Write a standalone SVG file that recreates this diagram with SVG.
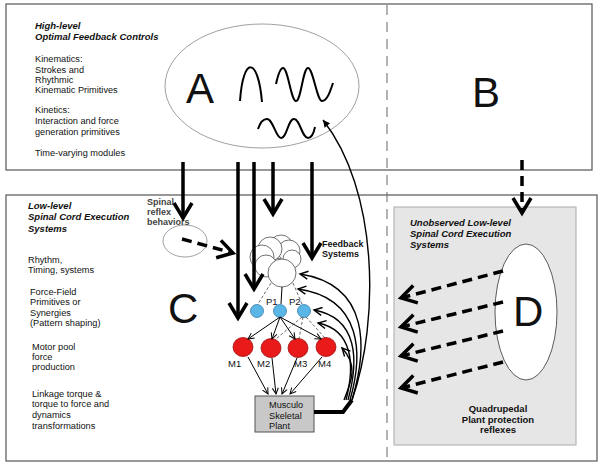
<svg xmlns="http://www.w3.org/2000/svg" width="600" height="467" viewBox="0 0 600 467">
<style>
text{font-family:"Liberation Sans",Arial,sans-serif;fill:#111}
.h{font-size:9.5px;font-weight:bold;font-style:italic}
.t{font-size:9.2px}
.b{font-size:9px;font-weight:bold}
.big{font-size:42px}
.lab{font-size:9.5px}
.frame{fill:#fff;stroke:#555;stroke-width:1.2}
.thick{fill:none;stroke:#000;stroke-width:3.5}
.tdash{fill:none;stroke:#000;stroke-width:3.5;stroke-dasharray:10,6}
.thin{fill:none;stroke:#000;stroke-width:1}
.fb{fill:none;stroke:#000;stroke-width:1.4}
.tdsh{fill:none;stroke:#444;stroke-width:0.8;stroke-dasharray:3,2}
.wave{fill:none;stroke:#000;stroke-width:2}
.blob{fill:#fff;stroke:#333;stroke-width:0.7}
.pc{fill:#5ab6e6;stroke:#3a7fa8;stroke-width:0.8}
.mc{fill:#e81a1a;stroke:#a01010;stroke-width:0.8}
</style>
<defs>
<marker id="big" markerUnits="userSpaceOnUse" markerWidth="24" markerHeight="24" viewBox="-18 -12 22 24" refX="0" refY="0" orient="auto">
<path d="M-15,-9 L0,0 L-15,9" fill="none" stroke="#000" stroke-width="3.5"/>
</marker>
<marker id="sm" markerUnits="userSpaceOnUse" markerWidth="10" markerHeight="10" viewBox="-8 -5 10 10" refX="0" refY="0" orient="auto">
<path d="M-6,-3 L0,0 L-6,3" fill="none" stroke="#000" stroke-width="1"/>
</marker>
<marker id="fbm" markerUnits="userSpaceOnUse" markerWidth="12" markerHeight="12" viewBox="-10 -6 12 12" refX="0" refY="0" orient="auto">
<path d="M-8,-4 L0,0 L-8,4" fill="none" stroke="#000" stroke-width="1.4"/>
</marker>
<marker id="tri" markerUnits="userSpaceOnUse" markerWidth="10" markerHeight="10" viewBox="-8 -5 10 10" refX="0" refY="0" orient="auto">
<path d="M-7,-3.5 L0,0 L-7,3.5 Z" fill="#000"/>
</marker>
</defs>

<g id="frames">
<rect class="frame" x="6" y="4" width="586" height="166"/>
<rect class="frame" x="6" y="195" width="591" height="266" stroke="#777"/>
<line x1="387" y1="5" x2="387" y2="458" stroke="#666" stroke-width="1" stroke-dasharray="10,7"/>
</g>

<g id="top-labels">
<text class="h" x="35" y="29">High-level</text>
<text class="h" x="35" y="40">Optimal Feedback Controls</text>
<text class="t" x="35" y="62">Kinematics:</text>
<text class="t" x="35" y="73">Strokes and</text>
<text class="t" x="35" y="83">Rhythmic</text>
<text class="t" x="35" y="93">Kinematic Primitives</text>
<text class="t" x="35" y="113">Kinetics:</text>
<text class="t" x="35" y="124">Interaction and force</text>
<text class="t" x="35" y="135">generation primitives</text>
<text class="t" x="35" y="156">Time-varying modules</text>
</g>

<g id="nodeA">
<ellipse cx="262" cy="86" rx="97" ry="62" fill="#fff" stroke="#888" stroke-width="0.8"/>
<text class="big" x="186" y="103">A</text>
<path class="wave" d="M240,101 C243,56 258,56 262,102"/>
<path class="wave" d="M276,84 C278,75 280,68 283,68 C288,68 291,101 296,101 C301,101 303,68 308,68 C313,68 317,101 322,101 C327,101 330,92 333,83"/>
<path class="wave" d="M258,129 C260,123 263,119 267,119 C273,119 276,138 281,138 C287,138 288,119 294,119 C300,119 302,138 308,138 C312,138 314,132 315,127"/>
</g>

<g id="nodeB">
<text class="big" x="472" y="107">B</text>
</g>

<g id="low-labels">
<text class="h" x="28" y="209">Low-level</text>
<text class="h" x="28" y="220">Spinal Cord Execution</text>
<text class="h" x="28" y="232">Systems</text>
<text class="t" x="28" y="263">Rhythm,</text>
<text class="t" x="28" y="273">Timing, systems</text>
<text class="t" x="30" y="295">Force-Field</text>
<text class="t" x="30" y="305">Primitives or</text>
<text class="t" x="30" y="316">Synergies</text>
<text class="t" x="30" y="326">(Pattern shaping)</text>
<text class="t" x="32" y="350">Motor pool</text>
<text class="t" x="32" y="360">force</text>
<text class="t" x="32" y="370">production</text>
<text class="t" x="32" y="397">Linkage torque &amp;</text>
<text class="t" x="32" y="407">torque to force and</text>
<text class="t" x="32" y="418">dynamics</text>
<text class="t" x="32" y="429">transformations</text>
</g>

<g id="nodeC">
<text class="big" x="168" y="323">C</text>
</g>

<g id="spinal-reflex">
<ellipse cx="185" cy="241" rx="22" ry="16" fill="none" stroke="#888" stroke-width="0.8"/>
<text class="b" x="147" y="205" style="fill:#444">Spinal</text>
<text class="b" x="147" y="215" style="fill:#444">reflex</text>
<text class="b" x="147" y="225" style="fill:#444">behaviors</text>
</g>

<g id="feedback-label">
<text class="b" x="322" y="247">Feedback</text>
<text class="b" x="322" y="257">Systems</text>
</g>

<g id="cluster">
<circle class="blob" cx="281" cy="247" r="12"/>
<circle class="blob" cx="289" cy="251" r="11"/>
<circle class="blob" cx="270" cy="249" r="12"/>
<circle class="blob" cx="292" cy="259" r="9"/>
<circle class="blob" cx="262" cy="257" r="12"/>
<circle class="blob" cx="266" cy="266" r="11"/>
<circle class="blob" cx="282" cy="273" r="14"/>
</g>

<g id="P0"><circle class="pc" cx="257" cy="311" r="6.5"/></g>
<g id="P1"><circle class="pc" cx="280" cy="311" r="6.5"/><text class="lab" x="266" y="305">P1</text></g>
<g id="P2"><circle class="pc" cx="304" cy="311" r="6.5"/><text class="lab" x="289" y="305">P2</text></g>

<g id="M1"><ellipse class="mc" cx="243" cy="347" rx="10" ry="9.5"/><text class="lab" x="228" y="367">M1</text></g>
<g id="M2"><ellipse class="mc" cx="271" cy="348" rx="10" ry="9.5"/><text class="lab" x="257" y="367">M2</text></g>
<g id="M3"><ellipse class="mc" cx="298" cy="348" rx="10" ry="9.5"/><text class="lab" x="294" y="367">M3</text></g>
<g id="M4"><ellipse class="mc" cx="326" cy="347" rx="10" ry="9.5"/><text class="lab" x="318" y="367">M4</text></g>

<g id="plant">
<rect x="255" y="396" width="59" height="36" fill="#c8c8c8" stroke="#555" stroke-width="1"/>
<text class="t" x="269" y="408">Musculo</text>
<text class="t" x="269" y="419">Skeletal</text>
<text class="t" x="269" y="429">Plant</text>
</g>

<g id="nodeD">
<rect x="394" y="207" width="182" height="238" fill="#e6e6e6" stroke="#aaa" stroke-width="1"/>
<text class="h" x="410" y="226">Unobserved Low-level</text>
<text class="h" x="410" y="237">Spinal Cord Execution</text>
<text class="h" x="410" y="248">Systems</text>
<ellipse cx="526" cy="312" rx="31" ry="68" fill="#fff" stroke="#333" stroke-width="0.8"/>
<text class="big" x="513" y="326">D</text>
<text class="b" x="498" y="412" text-anchor="middle" style="font-size:9.5px">Quadrupedal</text>
<text class="b" x="498" y="423" text-anchor="middle" style="font-size:9.5px">Plant protection</text>
<text class="b" x="498" y="433" text-anchor="middle" style="font-size:9.5px">reflexes</text>
</g>

<g id="connectors">
<line class="thick" x1="183" y1="162" x2="183" y2="218" marker-end="url(#big)"/>
<line class="thick" x1="238" y1="162" x2="238" y2="318" marker-end="url(#big)"/>
<line class="thick" x1="254" y1="162" x2="254" y2="289" marker-end="url(#big)"/>
<line class="thick" x1="273" y1="162" x2="273" y2="214" marker-end="url(#big)"/>
<line class="thick" x1="312" y1="162" x2="312" y2="258" marker-end="url(#big)"/>
<line class="tdash" x1="522" y1="160" x2="522" y2="213" marker-end="url(#big)"/>
<line class="tdash" x1="182" y1="239" x2="233" y2="253" marker-end="url(#big)"/>
<line class="tdash" x1="503" y1="271" x2="401" y2="298" marker-end="url(#big)"/>
<line class="tdash" x1="503" y1="302" x2="401" y2="327" marker-end="url(#big)"/>
<line class="tdash" x1="503" y1="331" x2="401" y2="356" marker-end="url(#big)"/>
<line class="tdash" x1="503" y1="362" x2="401" y2="388" marker-end="url(#big)"/>

<line class="tdsh" x1="271" y1="283" x2="258" y2="304"/>
<line class="thin" x1="282" y1="287" x2="281" y2="304" stroke-width="0.8"/>
<line class="tdsh" x1="293" y1="283" x2="302" y2="304"/>

<line class="thin" x1="280" y1="317" x2="248" y2="339" marker-end="url(#sm)"/>
<line class="thin" x1="280" y1="317" x2="272" y2="339" marker-end="url(#sm)"/>
<line class="thin" x1="280" y1="317" x2="295" y2="339" marker-end="url(#sm)"/>
<line class="thin" x1="280" y1="317" x2="321" y2="339" marker-end="url(#sm)"/>
<line class="tdsh" x1="302" y1="317" x2="276" y2="339"/>
<line class="tdsh" x1="303" y1="317" x2="299" y2="339"/>
<line class="tdsh" x1="306" y1="317" x2="325" y2="338"/>

<line class="thin" x1="248" y1="357" x2="268" y2="394" marker-end="url(#sm)"/>
<line class="thin" x1="272" y1="358" x2="276" y2="394" marker-end="url(#sm)"/>
<line class="thin" x1="297" y1="358" x2="282" y2="394" marker-end="url(#sm)"/>
<line class="thin" x1="322" y1="357" x2="290" y2="394" marker-end="url(#sm)"/>

<path d="M314,412 L343,412 L352,400" fill="none" stroke="#000" stroke-width="4"/>
<path class="fb" d="M352,400 C380,320 378,190 323,120" stroke-width="1.5" marker-end="url(#tri)"/>
<path class="fb" d="M352,400 C367,350 371,285 300,274" marker-end="url(#fbm)"/>
<path class="fb" d="M350,400 C363,355 363,298 298,289" marker-end="url(#fbm)"/>
<path class="fb" d="M348,400 C359,360 358,318 314,310" marker-end="url(#fbm)"/>
<path class="fb" d="M346,400 C355,365 353,330 318,323" marker-end="url(#fbm)"/>
<path class="fb" d="M344,400 C352,380 358,365 342,348" marker-end="url(#fbm)"/>
</g>
</svg>
